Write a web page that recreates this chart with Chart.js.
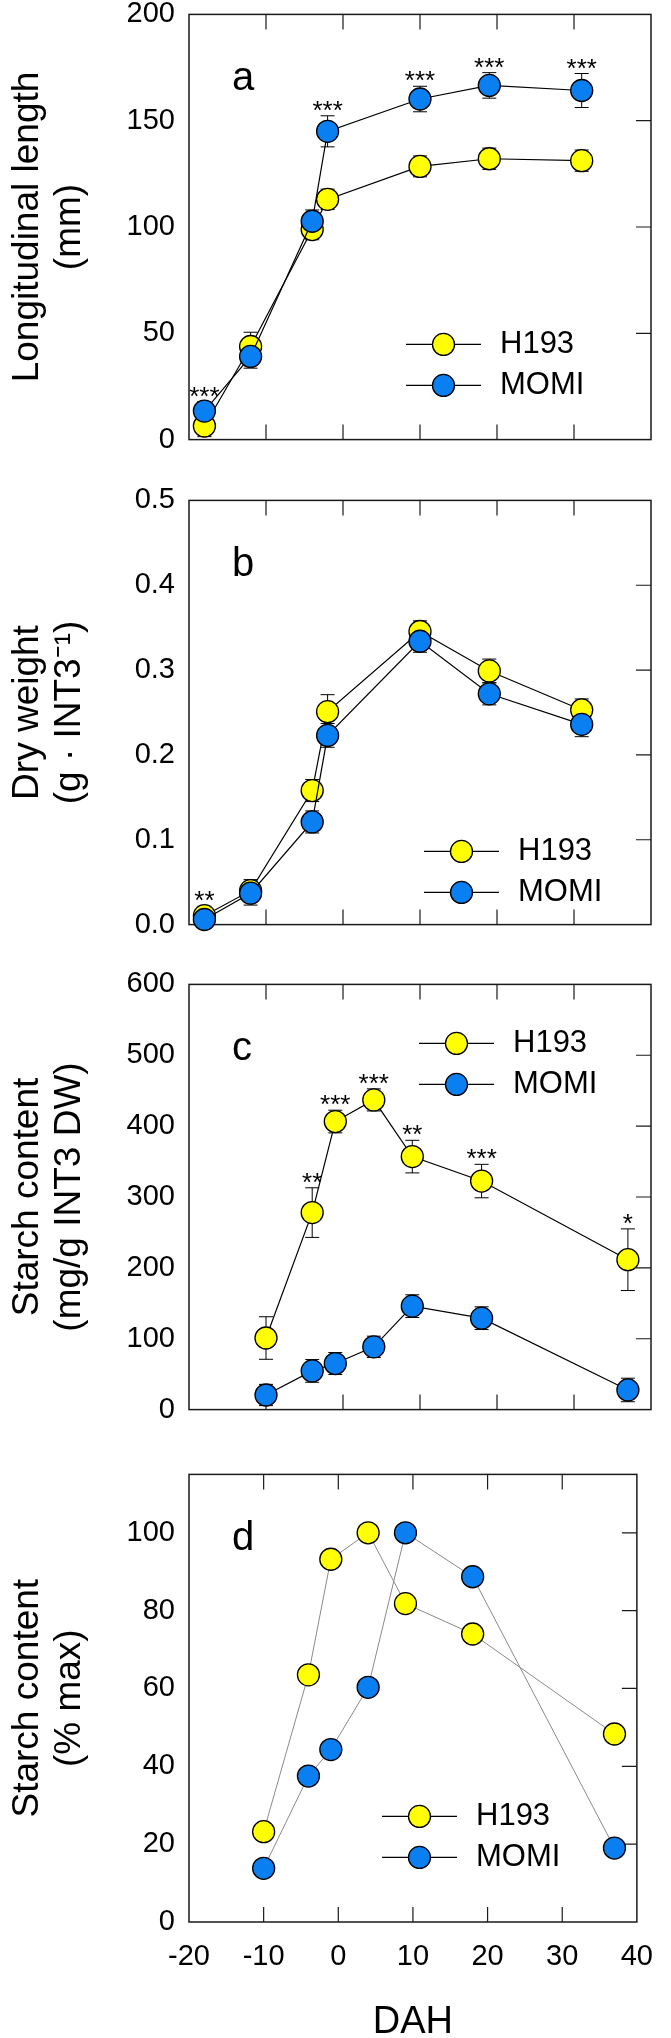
<!DOCTYPE html>
<html>
<head>
<meta charset="utf-8">
<script src="https://cdn.jsdelivr.net/npm/chart.js@4.4.1/dist/chart.umd.min.js"></script>
<style>
  html, body { margin: 0; padding: 0; background: #fff; overflow: hidden; }
  body { width: 671px; height: 2038px; position: relative; }
  canvas { position: absolute; left: 0; }
</style>
</head>
<body>
<canvas id="panelA"></canvas>
<canvas id="panelB"></canvas>
<canvas id="panelC"></canvas>
<canvas id="panelD"></canvas>
<script>
// sampling days (DAH)
const dahAB = [-18, -12, -4, -2, 10, 19, 31];
const dahCD = [-10, -4, -1, 4, 9, 18, 37];
const dahTicks = [-20, -10, 0, 10, 20, 30, 40];

// a - longitudinal length (mm)
const lengthH193 = [6.4, 43.8, 98.8, 113, 128.5, 132.1, 131.2];
const lengthH193Err = [5, 6.7, 4.8, 4.8, 4.9, 5, 5];
const lengthMOMI = [13.4, 39.1, 102.7, 145, 160.2, 166.6, 164.2];
const lengthMOMIErr = [4.5, 5.5, 5.3, 7.3, 6, 6, 8];
const lengthStars = ['***', '', '', '***', '***', '***', '***'];

// b - dry weight (g INT3-1)
const weightH193 = [0.0105, 0.040, 0.158, 0.251, 0.3455, 0.299, 0.253];
const weightH193Err = [0.011, 0.013, 0.013, 0.02, 0.0125, 0.014, 0.013];
const weightMOMI = [0.006, 0.037, 0.121, 0.223, 0.334, 0.272, 0.236];
const weightMOMIErr = [0.005, 0.014, 0.013, 0.014, 0.013, 0.013, 0.0145];
const weightStars = ['**', '', '', '', '', '', ''];

// c - starch content (mg/g INT3 DW)
const starchH193 = [101, 278, 406.5, 437, 357, 322.5, 211.5];
const starchH193Err = [30, 35, 16, 15.6, 23, 23.6, 43.5];
const starchMOMI = [20.6, 54.6, 65, 88.6, 146, 129, 27.7];
const starchMOMIErr = [15, 16, 15.5, 15, 16, 16, 16.6];
const starchStars = ['', '**', '***', '***', '**', '***', '*'];

// d - starch content (% max)
const pctH193 = [23.2, 63.5, 93.2, 100, 81.8, 74, 48.3];
const pctMOMI = [13.8, 37.5, 44.3, 60.3, 100, 88.7, 19];

const FONT = "'Liberation Sans', Arial, sans-serif";
const YELLOW = '#ffff00';
const BLUE = '#0a7ff2';

function pts(xs, ys) {
  return xs.map((x, i) => ({ x: x, y: ys[i] }));
}

// frame, inward ticks, error bars, stars, legend and panel letter
function decor(cfg) {
  return {
    id: 'decor',
    beforeDatasetsDraw(chart) {
      const ctx = chart.ctx;
      const a = chart.chartArea;
      const xs = chart.scales.x, ys = chart.scales.y;
      ctx.save();
      ctx.strokeStyle = '#1a1a1a';
      ctx.lineWidth = 1.5;
      ctx.strokeRect(a.left, a.top, a.right - a.left, a.bottom - a.top);
      ctx.lineWidth = 1.2;
      ctx.beginPath();
      xs.ticks.forEach(t => {
        if (t.value <= xs.min + 1e-9 || t.value >= xs.max - 1e-9) return;
        const px = xs.getPixelForValue(t.value);
        ctx.moveTo(px, a.bottom); ctx.lineTo(px, a.bottom - 15);
        ctx.moveTo(px, a.top); ctx.lineTo(px, a.top + 15);
      });
      ys.ticks.forEach(t => {
        if (t.value <= ys.min + 1e-9 || t.value >= ys.max - 1e-9) return;
        const py = ys.getPixelForValue(t.value);
        ctx.moveTo(a.right, py); ctx.lineTo(a.right - 15, py);
      });
      ctx.stroke();

      // error bars, under the markers
      ctx.strokeStyle = '#000';
      ctx.lineWidth = 1;
      chart.data.datasets.forEach(ds => {
        if (!ds.errors) return;
        ds.data.forEach((p, i) => {
          const px = xs.getPixelForValue(p.x);
          const y1 = ys.getPixelForValue(p.y + ds.errors[i]);
          const y2 = ys.getPixelForValue(p.y - ds.errors[i]);
          ctx.beginPath();
          ctx.moveTo(px, y1); ctx.lineTo(px, y2);
          ctx.moveTo(px - 7, y1); ctx.lineTo(px + 7, y1);
          ctx.moveTo(px - 7, y2); ctx.lineTo(px + 7, y2);
          ctx.stroke();
        });
      });
      ctx.restore();
    },
    afterDatasetsDraw(chart) {
      const ctx = chart.ctx;
      const a = chart.chartArea;
      const xs = chart.scales.x, ys = chart.scales.y;
      ctx.save();
      ctx.fillStyle = '#000';

      // significance marks above the highest error bar
      if (cfg.stars) {
        ctx.font = '26px ' + FONT;
        ctx.textAlign = 'center';
        ctx.textBaseline = 'alphabetic';
        cfg.stars.forEach((s, i) => {
          if (!s) return;
          let top = Infinity;
          chart.data.datasets.forEach(ds => {
            const p = ds.data[i];
            top = Math.min(top, ys.getPixelForValue(p.y + (ds.errors ? ds.errors[i] : 0)));
          });
          ctx.fillText(s, xs.getPixelForValue(chart.data.datasets[0].data[i].x), top + 3);
        });
      }

      // panel letter
      ctx.font = '40px ' + FONT;
      ctx.textAlign = 'left';
      ctx.textBaseline = 'alphabetic';
      ctx.fillText(cfg.letter, a.left + 43, a.top + 76);

      // legend: line + marker + label
      const lg = cfg.legend;
      ctx.font = '31px ' + FONT;
      ctx.textBaseline = 'middle';
      chart.data.datasets.forEach((ds, i) => {
        const lx = a.left + lg.dx;
        const ly = a.top + lg.dy + i * 41;
        ctx.strokeStyle = '#000';
        ctx.lineWidth = 1.2;
        ctx.beginPath();
        ctx.moveTo(lx, ly); ctx.lineTo(lx + 75, ly);
        ctx.stroke();
        ctx.beginPath();
        ctx.arc(lx + 37.5, ly, 11, 0, Math.PI * 2);
        ctx.fillStyle = ds.pointBackgroundColor;
        ctx.fill();
        ctx.lineWidth = 1.3;
        ctx.stroke();
        ctx.fillStyle = '#000';
        ctx.fillText(ds.label, lx + 94, ly);
      });
      ctx.restore();
    }
  };
}

function series(label, xs, ys, errs, color, lineColor, order) {
  return {
    label: label,
    data: pts(xs, ys),
    errors: errs,
    showLine: true,
    borderColor: lineColor,
    borderWidth: lineColor === '#000' ? 1.2 : 1,
    pointRadius: 11,
    pointHoverRadius: 11,
    pointBackgroundColor: color,
    pointBorderColor: '#000',
    pointBorderWidth: 1.3,
    clip: false,
    order: order
  };
}

function makePanel(id, top, height, xAxisH, p) {
  const canvas = document.getElementById(id);
  canvas.width = 671;
  canvas.height = height;
  canvas.style.top = top + 'px';
  canvas.style.width = '671px';
  canvas.style.height = height + 'px';
  const lineColor = p.grey ? '#8a8a8a' : '#000';
  return new Chart(canvas.getContext('2d'), {
    type: 'scatter',
    data: {
      datasets: [
        series('H193', p.xs, p.h193, p.h193Err, YELLOW, lineColor, 2),
        series('MOMI', p.xs, p.momi, p.momiErr, BLUE, lineColor, 1)
      ]
    },
    options: {
      responsive: false,
      animation: false,
      devicePixelRatio: 1,
      layout: { padding: { top: 30, left: 0, right: 20, bottom: 0 } },
      plugins: { legend: { display: false }, tooltip: { enabled: false } },
      scales: {
        x: {
          type: 'linear',
          min: dahTicks[0],
          max: dahTicks[dahTicks.length - 1],
          afterBuildTicks: s => { s.ticks = dahTicks.map(v => ({ value: v })); },
          grid: { display: false, drawTicks: false, tickLength: 0 },
          border: { display: false },
          ticks: {
            display: !!p.xLabels,
            autoSkip: false,
            maxRotation: 0,
            padding: 18,
            color: '#000',
            font: { family: FONT, size: 29 }
          },
          title: {
            display: !!p.xLabels,
            text: 'DAH',
            color: '#000',
            font: { family: FONT, size: 38, lineHeight: 0.8 },
            padding: { top: 0, bottom: 0 }
          },
          afterFit: s => { s.height = xAxisH; }
        },
        y: {
          min: 0,
          max: p.yMax,
          grid: { display: false, drawTicks: false, tickLength: 0 },
          border: { display: false },
          ticks: {
            stepSize: p.yStep,
            includeBounds: false,
            padding: 14,
            color: '#000',
            font: { family: FONT, size: 29 },
            callback: v => p.yDec ? v.toFixed(p.yDec) : String(v)
          },
          title: {
            display: true,
            text: p.title,
            color: '#000',
            font: { family: FONT, size: 37, lineHeight: 1.14 },
            padding: { top: 7, bottom: 0 }
          },
          afterFit: s => { s.width = 189; }
        }
      }
    },
    plugins: [decor({ letter: p.letter, stars: p.stars, legend: p.legend })]
  });
}

makePanel('panelA', -17, 488, 10, {
  xs: dahAB, h193: lengthH193, h193Err: lengthH193Err, momi: lengthMOMI, momiErr: lengthMOMIErr,
  stars: lengthStars, yMax: 200, yStep: 50, letter: 'a',
  title: ['Longitudinal length', '(mm)'],
  legend: { dx: 217, dy: 330 }
});

makePanel('panelB', 469, 487, 10, {
  xs: dahAB, h193: weightH193, h193Err: weightH193Err, momi: weightMOMI, momiErr: weightMOMIErr,
  stars: weightStars, yMax: 0.5, yStep: 0.1, yDec: 1, letter: 'b',
  title: ['Dry weight', '(g \u00b7 INT3\u207b\u00b9)'],
  legend: { dx: 235, dy: 351 }
});

makePanel('panelC', 953, 488, 10, {
  xs: dahCD, h193: starchH193, h193Err: starchH193Err, momi: starchMOMI, momiErr: starchMOMIErr,
  stars: starchStars, yMax: 600, yStep: 100, letter: 'c',
  title: ['Starch content', '(mg/g INT3 DW)'],
  legend: { dx: 230, dy: 59 }
});

makePanel('panelD', 1443, 595, 116, {
  xs: dahCD, h193: pctH193, h193Err: null, momi: pctMOMI, momiErr: null,
  stars: null, yMax: 115, yStep: 20, letter: 'd', grey: true, xLabels: true,
  title: ['Starch content', '(% max)'],
  legend: { dx: 193, dy: 342 }
});
</script>
</body>
</html>
